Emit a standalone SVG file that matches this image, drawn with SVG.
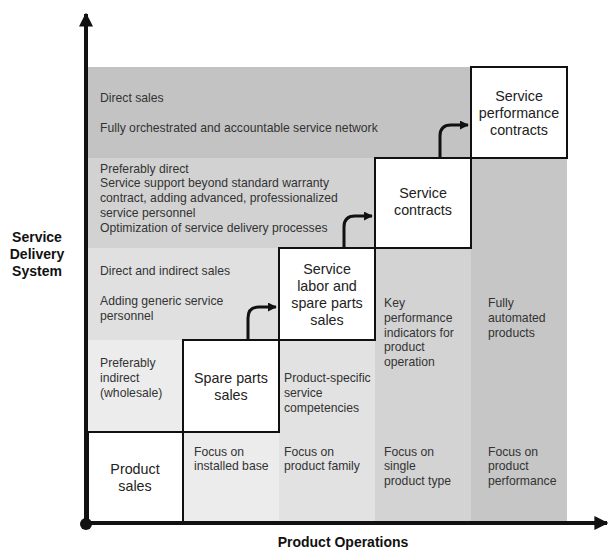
<svg xmlns="http://www.w3.org/2000/svg" width="609" height="550" viewBox="0 0 609 550">
<defs>
<style>
.t{font-family:"Liberation Sans",Arial,sans-serif;font-size:12.2px;fill:#333}
.b{font-family:"Liberation Sans",Arial,sans-serif;font-size:14.3px;fill:#222;text-anchor:middle}
.ax{font-family:"Liberation Sans",Arial,sans-serif;font-size:14px;font-weight:bold;fill:#111;text-anchor:middle}
.box{fill:#fff;stroke:#111;stroke-width:2}
.con{fill:none;stroke:#111;stroke-width:3}
</style>
<marker id="ah" viewBox="0 0 10 10" refX="9" refY="5" markerWidth="3" markerHeight="3" orient="auto" markerUnits="strokeWidth"><path d="M0,0 L10,5 L0,10 z" fill="#111"/></marker>
<marker id="axh" viewBox="0 0 10 10" refX="9" refY="5" markerWidth="3.5" markerHeight="3.5" orient="auto" markerUnits="strokeWidth"><path d="M0,0 L10,5 L0,10 z" fill="#111"/></marker>
</defs>
<g id="background">
<rect x="88" y="67" width="383" height="91" fill="#c3c3c3"/>
<rect x="88" y="158" width="287" height="90" fill="#d2d2d2"/>
<rect x="88" y="248" width="191" height="92" fill="#e0e0e0"/>
<rect x="88" y="340" width="95" height="92" fill="#ececec"/>
<rect x="183" y="432" width="96" height="90" fill="#ececec"/>
<rect x="279" y="340" width="96" height="182" fill="#e2e2e2"/>
<rect x="375" y="248" width="96" height="274" fill="#d3d3d3"/>
<rect x="471" y="158" width="96" height="364" fill="#c6c6c6"/>
</g>
<g id="row-texts">
<text class="t" x="100" y="102">Direct sales</text>
<text class="t" x="100" y="132">Fully orchestrated and accountable service network</text>
<text class="t" x="100" y="173">Preferably direct</text>
<text class="t" x="100" y="187">Service support beyond standard warranty</text>
<text class="t" x="100" y="202">contract, adding advanced, professionalized</text>
<text class="t" x="100" y="217">service personnel</text>
<text class="t" x="100" y="232">Optimization of service delivery processes</text>
<text class="t" x="100" y="275">Direct and indirect sales</text>
<text class="t" x="100" y="305">Adding generic service</text>
<text class="t" x="100" y="320">personnel</text>
<text class="t" x="100" y="367">Preferably</text>
<text class="t" x="100" y="382">indirect</text>
<text class="t" x="100" y="397">(wholesale)</text>
</g>
<g id="column-texts">
<text class="t" x="194" y="456">Focus on</text>
<text class="t" x="194" y="470">installed base</text>
<text class="t" x="284" y="382">Product-specific</text>
<text class="t" x="284" y="397">service</text>
<text class="t" x="284" y="412">competencies</text>
<text class="t" x="284" y="456">Focus on</text>
<text class="t" x="284" y="470">product family</text>
<text class="t" x="384" y="307">Key</text>
<text class="t" x="384" y="322">performance</text>
<text class="t" x="384" y="337">indicators for</text>
<text class="t" x="384" y="351">product</text>
<text class="t" x="384" y="366">operation</text>
<text class="t" x="384" y="456">Focus on</text>
<text class="t" x="384" y="470">single</text>
<text class="t" x="384" y="485">product type</text>
<text class="t" x="488" y="307">Fully</text>
<text class="t" x="488" y="322">automated</text>
<text class="t" x="488" y="337">products</text>
<text class="t" x="488" y="456">Focus on</text>
<text class="t" x="488" y="470">product</text>
<text class="t" x="488" y="485">performance</text>
</g>
<g id="node-product-sales">
<rect class="box" x="88" y="432" width="95" height="90"/>
<text class="b" x="135" y="474">Product</text>
<text class="b" x="135" y="491">sales</text>
</g>
<g id="node-spare-parts">
<rect class="box" x="183" y="340" width="96" height="92"/>
<text class="b" x="231" y="383">Spare parts</text>
<text class="b" x="231" y="400">sales</text>
</g>
<g id="node-service-labor">
<rect class="box" x="279" y="248" width="96" height="92"/>
<text class="b" x="327" y="274">Service</text>
<text class="b" x="327" y="291">labor and</text>
<text class="b" x="327" y="308">spare parts</text>
<text class="b" x="327" y="325">sales</text>
</g>
<g id="node-service-contracts">
<rect class="box" x="375" y="158" width="96" height="90"/>
<text class="b" x="423" y="198">Service</text>
<text class="b" x="423" y="215">contracts</text>
</g>
<g id="node-service-performance">
<rect class="box" x="471" y="67" width="96" height="91"/>
<text class="b" x="519" y="101">Service</text>
<text class="b" x="519" y="118">performance</text>
<text class="b" x="519" y="135">contracts</text>
</g>
<g id="connectors">
<path class="con" d="M248,340 V318 Q248,307 259,307 H276" marker-end="url(#ah)"/>
<path class="con" d="M344,248 V227 Q344,216 355,216 H372" marker-end="url(#ah)"/>
<path class="con" d="M440,158 V136 Q440,125 451,125 H468" marker-end="url(#ah)"/>
</g>
<g id="axes">
<line x1="86" y1="524" x2="86" y2="14" stroke="#111" stroke-width="4" marker-end="url(#axh)"/>
<line x1="86" y1="523" x2="607" y2="523" stroke="#111" stroke-width="4" marker-end="url(#axh)"/>
<circle cx="86" cy="524" r="6" fill="#111"/>
<text class="ax" x="37" y="242">Service</text>
<text class="ax" x="37" y="259">Delivery</text>
<text class="ax" x="37" y="276">System</text>
<text class="ax" x="343" y="547">Product Operations</text>
</g>
</svg>
